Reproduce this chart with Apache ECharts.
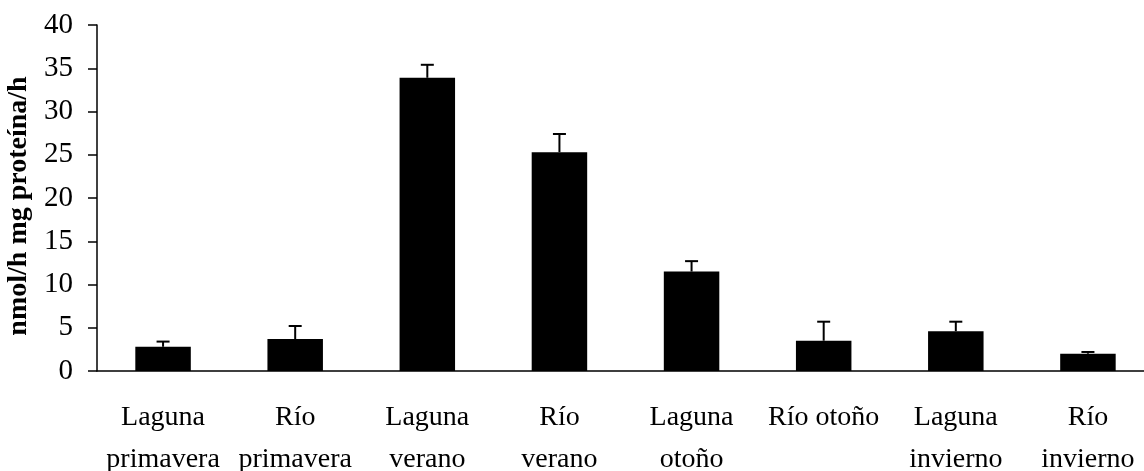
<!DOCTYPE html>
<html>
<head>
<meta charset="utf-8">
<script src="https://cdn.jsdelivr.net/npm/echarts@6/dist/echarts.min.js"></script>
<style>
html,body{margin:0;padding:0;background:#fff;}
#chart{width:1144px;height:471px;}
</style>
</head>
<body>
<div id="chart"></div>
<script>
const categories = ["Laguna\nprimavera", "Río\nprimavera", "Laguna\nverano", "Río\nverano", "Laguna\notoño", "Río otoño", "Laguna\ninvierno", "Río\ninvierno"];
const means = [2.8, 3.7, 33.9, 25.3, 11.5, 3.5, 4.6, 2.0];
const errors = [0.6, 1.5, 1.5, 2.1, 1.2, 2.2, 1.1, 0.2];
const yTicks = { min: 0, max: 40, interval: 5 };
const yTitle = "nmol/h mg proteína/h";

const chart = echarts.init(document.getElementById('chart'));
const font = "'Liberation Serif', 'Times New Roman', serif";
chart.setOption({
  animation: false,
  backgroundColor: '#fff',
  grid: { left: 97, top: 25, bottom: 100, width: 1057, containLabel: false, outerBoundsMode: 'none' },
  xAxis: {
    type: 'category',
    data: categories,
    axisLine: { lineStyle: { color: '#000', width: 1.5 } },
    axisTick: { show: false },
    axisLabel: { interval: 0, margin: 26, color: '#000', fontFamily: font, fontSize: 28, lineHeight: 42 }
  },
  yAxis: {
    type: 'value',
    min: yTicks.min, max: yTicks.max, interval: yTicks.interval,
    name: yTitle,
    nameLocation: 'middle',
    nameGap: 51,
    nameTextStyle: { color: '#000', fontFamily: font, fontSize: 28, fontWeight: 'bold', padding: [0, 16, 0, 0] },
    splitLine: { show: false },
    axisLine: { show: true, lineStyle: { color: '#000', width: 1.5 } },
    axisTick: { show: true, length: 9, lineStyle: { color: '#000', width: 1.5 } },
    axisLabel: { margin: 24, color: '#000', fontFamily: font, fontSize: 29 }
  },
  series: [
    {
      type: 'bar',
      data: means,
      barWidth: '42%',
      itemStyle: { color: '#000' },
      z: 2
    },
    {
      type: 'custom',
      data: means.map((m, i) => [i, m, m + errors[i]]),
      z: 3,
      renderItem: function (params, api) {
        const x = api.value(0);
        const p0 = api.coord([x, api.value(1)]);
        const p1 = api.coord([x, api.value(2)]);
        const hw = 6.5;
        const style = { stroke: '#000', lineWidth: 2 };
        return {
          type: 'group',
          children: [
            { type: 'line', shape: { x1: p0[0], y1: p0[1], x2: p1[0], y2: p1[1] }, style: style },
            { type: 'line', shape: { x1: p1[0] - hw, y1: p1[1], x2: p1[0] + hw, y2: p1[1] }, style: style }
          ]
        };
      }
    }
  ]
});
</script>
</body>
</html>
